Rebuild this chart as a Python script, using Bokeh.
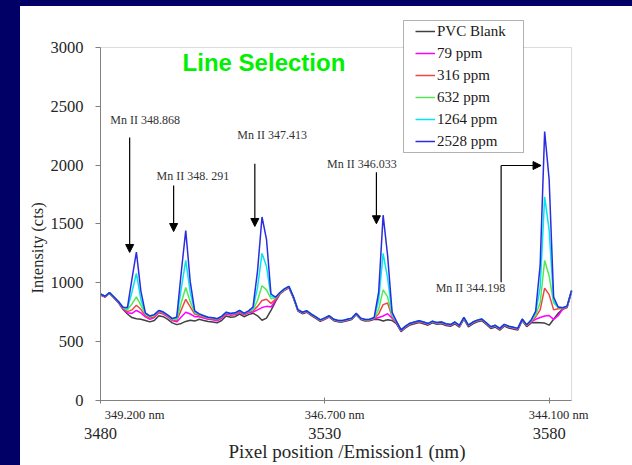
from bokeh.plotting import figure
from bokeh.models import (Legend, LegendItem, Label, Arrow, NormalHead, Div, Title,
                          FixedTicker, BoxAnnotation, Range1d, LinearAxis)
from bokeh.layouts import column, row
from bokeh.embed import file_html
from bokeh.resources import INLINE

# ---------------- data ----------------
pixel = list(range(3480, 3586))

pvc_blank = [
    895, 878, 910, 872, 830, 775, 735, 705, 695, 690,
    680, 668, 680, 720, 712, 690, 660, 645, 655, 672,
    682, 675, 690, 680, 672, 668, 660, 680, 718, 708,
    712, 735, 712, 730, 742, 720, 682, 700, 765, 840,
    905, 935, 958, 870, 760, 738, 750, 722, 698, 672,
    690, 708, 678, 668, 668, 678, 688, 728, 688, 676,
    678, 690, 688, 676, 686, 680, 650, 585, 618, 642,
    652, 662, 652, 640, 660, 648, 652, 638, 630, 652,
    624, 692, 626, 652, 668, 678, 646, 612, 624, 598,
    632, 616, 608, 598, 678, 628, 660, 662, 660, 658,
    640, 690, 740, 775, 790, 925]

ppm_79 = [
    900, 882, 915, 876, 835, 782, 745, 740, 765, 745,
    710, 690, 705, 745, 735, 710, 680, 668, 710, 750,
    735, 712, 712, 700, 690, 686, 678, 698, 735, 725,
    728, 752, 728, 746, 752, 770, 790, 800, 795, 850,
    910, 940, 962, 875, 765, 744, 755, 728, 704, 678,
    695, 714, 684, 674, 674, 684, 694, 734, 694, 682,
    684, 695, 705, 718, 738, 700, 660, 592, 625, 650,
    660, 670, 660, 647, 668, 655, 660, 645, 638, 660,
    632, 700, 634, 660, 676, 686, 654, 620, 632, 606,
    640, 624, 616, 606, 686, 636, 668, 690, 705, 718,
    722, 690, 720, 775, 795, 928]

ppm_316 = [
    900, 882, 915, 877, 836, 785, 755, 770, 810, 775,
    720, 700, 712, 752, 740, 715, 685, 680, 770, 860,
    795, 735, 722, 710, 698, 694, 685, 705, 742, 732,
    736, 758, 733, 752, 762, 800, 850, 860, 825, 860,
    912, 942, 965, 878, 768, 746, 758, 730, 706, 680,
    697, 716, 686, 676, 676, 686, 696, 736, 696, 684,
    686, 698, 735, 815, 828, 712, 664, 595, 628, 652,
    662, 672, 662, 650, 670, 658, 662, 648, 640, 662,
    634, 702, 636, 662, 678, 688, 656, 622, 634, 608,
    642, 626, 618, 608, 688, 638, 672, 710, 770, 955,
    900, 770, 780, 780, 798, 930]

ppm_632 = [
    905, 885, 918, 880, 840, 790, 770, 820, 880, 810,
    735, 712, 725, 762, 748, 722, 692, 690, 830, 960,
    840, 748, 730, 716, 704, 700, 692, 712, 748, 738,
    742, 763, 738, 758, 772, 850, 975, 940, 865, 870,
    915, 945, 968, 880, 770, 748, 760, 733, 708, 683,
    700, 718, 688, 678, 678, 688, 698, 738, 698, 686,
    688, 700, 775, 940, 880, 722, 668, 598, 630, 655,
    665, 675, 665, 652, 672, 660, 665, 650, 643, 665,
    637, 705, 639, 665, 681, 690, 659, 625, 637, 611,
    645, 629, 621, 611, 690, 641, 678, 725, 830, 1190,
    1060, 830, 790, 785, 800, 932]

ppm_1264 = [
    905, 886, 918, 880, 842, 792, 780, 920, 1080, 860,
    740, 718, 730, 765, 752, 726, 696, 700, 950, 1190,
    920, 755, 736, 720, 708, 704, 695, 715, 750, 740,
    745, 765, 740, 760, 782, 960, 1250, 1140, 885, 875,
    918, 948, 970, 882, 772, 750, 762, 735, 710, 685,
    702, 720, 690, 680, 680, 690, 700, 740, 700, 688,
    690, 702, 850, 1250, 1040, 735, 670, 600, 632, 657,
    667, 677, 667, 654, 674, 662, 667, 652, 645, 667,
    639, 707, 641, 667, 683, 692, 661, 627, 639, 613,
    647, 631, 623, 613, 692, 643, 682, 745, 960, 1730,
    1450, 850, 795, 788, 802, 935]

ppm_2528 = [
    905, 886, 918, 880, 842, 792, 790, 1030, 1262, 930,
    745, 718, 730, 765, 752, 726, 696, 710, 1090, 1445,
    1010, 762, 736, 720, 708, 704, 695, 715, 750, 740,
    745, 765, 740, 762, 795, 1100, 1560, 1370, 905, 878,
    918, 948, 970, 882, 772, 750, 762, 735, 710, 685,
    702, 720, 690, 680, 680, 690, 700, 742, 700, 688,
    690, 705, 920, 1575, 1230, 750, 670, 600, 632, 657,
    667, 677, 667, 654, 674, 662, 667, 652, 645, 667,
    639, 707, 641, 667, 683, 692, 661, 627, 639, 613,
    647, 631, 623, 613, 692, 643, 684, 760, 1150, 2285,
    1880, 880, 795, 788, 802, 935]

series_names = ["PVC Blank", "79 ppm", "316 ppm", "632 ppm", "1264 ppm", "2528 ppm"]
series_values = [pvc_blank, ppm_79, ppm_316, ppm_632, ppm_1264, ppm_2528]
series_colors = ["#404040", "#FF00FF", "#F04545", "#55E855", "#00E5EE", "#2B2BE0"]

y_ticks = [0, 500, 1000, 1500, 2000, 2500, 3000]
x_ticks = [3480, 3530, 3580]
nm_labels = ["349.200 nm", "346.700 nm", "344.100 nm"]
nm_label_pos = [3487.6, 3532.2, 3582.1]

peak_labels = ["Mn II 348.868", "Mn  II 348. 291", "Mn II 347.413",
               "Mn II 346.033", "Mn II 344.198"]
peak_label_x = [3482.2, 3492.5, 3510.5, 3530.5, 3554.7]
peak_label_y = [2380, 1904, 2256, 2014, 960]
arrow_x = [3486.5, 3496.3, 3514.4, 3541.5]
arrow_y0 = [2235, 1827, 2012, 1940]
arrow_y1 = [1258, 1436, 1479, 1502]

SERIF = "Liberation Serif"
TXT = "#262626"
NAVY = "#000066"

# ---------------- figure ----------------
fig = figure(width=612, height=459, output_backend="svg", toolbar_location=None,
             x_range=Range1d(3480, 3586.1), y_range=Range1d(0, 3348.4),
             min_border_left=80, min_border_right=56, min_border_top=0,
             min_border_bottom=65, background_fill_color="white",
             border_fill_color="white")
fig.xgrid.visible = False
fig.ygrid.visible = False
fig.outline_line_color = None

renderers = []
for vals, col in zip(series_values, series_colors):
    r = fig.line(pixel, vals, line_color=col, line_width=1.5)
    renderers.append(r)


def style_axis(ax):
    ax.axis_line_color = "#7f7f7f"
    ax.major_tick_line_color = "#7f7f7f"
    ax.minor_tick_line_color = None
    ax.major_label_text_font = SERIF
    ax.major_label_text_color = TXT


# y axis
ya = fig.yaxis[0]
style_axis(ya)
ya.ticker = FixedTicker(ticks=y_ticks)
ya.bounds = (0, 3000)
ya.major_tick_out = 5
ya.major_tick_in = 0
ya.major_label_standoff = 12
ya.major_label_text_font_size = "16.5px"

fig.add_layout(Title(text="Intensity (cts)", align="left", offset=107, standoff=1,
                     text_font=SERIF, text_font_size="16.5px",
                     text_font_style="normal", text_color=TXT), "left")

# x axis 1: axis line, tick marks (as minor ticks) and wavelength labels
xb = fig.xaxis[0]
style_axis(xb)
xb.ticker = FixedTicker(ticks=nm_label_pos, minor_ticks=x_ticks)
xb.major_label_overrides = dict(zip(nm_label_pos, nm_labels))
xb.bounds = (3480, 3585)
xb.major_tick_line_color = None
xb.major_tick_out = 0
xb.major_tick_in = 0
xb.minor_tick_line_color = "#7f7f7f"
xb.minor_tick_in = 3
xb.minor_tick_out = 3
xb.major_label_standoff = 4
xb.major_label_text_font_size = "12.5px"

# x axis 2: pixel labels
xc = LinearAxis(ticker=FixedTicker(ticks=x_ticks))
style_axis(xc)
xc.axis_line_color = None
xc.major_tick_line_color = None
xc.major_tick_out = 0
xc.major_tick_in = 0
xc.major_label_standoff = 3
xc.major_label_text_font_size = "16.5px"
fig.add_layout(xc, "below")

fig.add_layout(Title(text="Pixel position /Emission1 (nm)", align="left", offset=128,
                     standoff=-6, text_font=SERIF, text_font_size="19px",
                     text_font_style="normal", text_color=TXT), "below")

# plot frame rectangle (top / right border)
fig.add_layout(BoxAnnotation(left=3480, right=3585, bottom=0, top=3000,
                             fill_alpha=0, line_color="#8c8c8c", line_width=1))

# title inside the plot
fig.add_layout(Label(x=3498.3, y=2873, text="Line Selection",
                     text_font="Liberation Sans", text_font_style="bold",
                     text_font_size="24px", text_color="#00F000",
                     text_baseline="middle", text_align="left"))

# peak annotations
for t, xv, yv in zip(peak_labels, peak_label_x, peak_label_y):
    fig.add_layout(Label(x=xv, y=yv, text=t, text_font=SERIF,
                         text_font_size="12px", text_color="#333333",
                         text_baseline="middle", text_align="left"))
for xv, y0, y1 in zip(arrow_x, arrow_y0, arrow_y1):
    fig.add_layout(Arrow(end=NormalHead(size=8, fill_color="black", line_color="black"),
                         x_start=xv, y_start=y0, x_end=xv, y_end=y1,
                         line_color="black", line_width=1.2))
fig.add_layout(Arrow(end=None, x_start=3569.3, y_start=1005, x_end=3569.3, y_end=1997,
                     line_color="black", line_width=1.2))
fig.add_layout(Arrow(end=NormalHead(size=8, fill_color="black", line_color="black"),
                     x_start=3569.3, y_start=1997, x_end=3578.2, y_end=1997,
                     line_color="black", line_width=1.2))

# legend box (white, black border)
fig.add_layout(BoxAnnotation(left=303, right=423, bottom=248, top=380,
                             left_units="screen", right_units="screen",
                             top_units="screen", bottom_units="screen",
                             fill_color="white", fill_alpha=1,
                             line_color="black", line_width=1))

legend = Legend(items=[LegendItem(label=n, renderers=[r])
                       for n, r in zip(series_names, renderers)],
                location=(315, 248), padding=0, spacing=0, margin=0,
                glyph_width=20, glyph_height=22, label_height=22,
                label_standoff=2, label_text_font=SERIF,
                label_text_font_size="15px", label_text_color="#1a1a1a",
                border_line_color=None, background_fill_alpha=0)
fig.add_layout(legend)

# slide background bands (navy) around the white panel
top_band = Div(width=632, height=6, margin=0, styles={"background-color": NAVY})
left_band = Div(width=20, height=459, margin=0, styles={"background-color": NAVY})
p = column(top_band, row(left_band, fig, spacing=0, margin=0), spacing=0, margin=0)

open("out.html", "w").write(file_html(p, INLINE))
